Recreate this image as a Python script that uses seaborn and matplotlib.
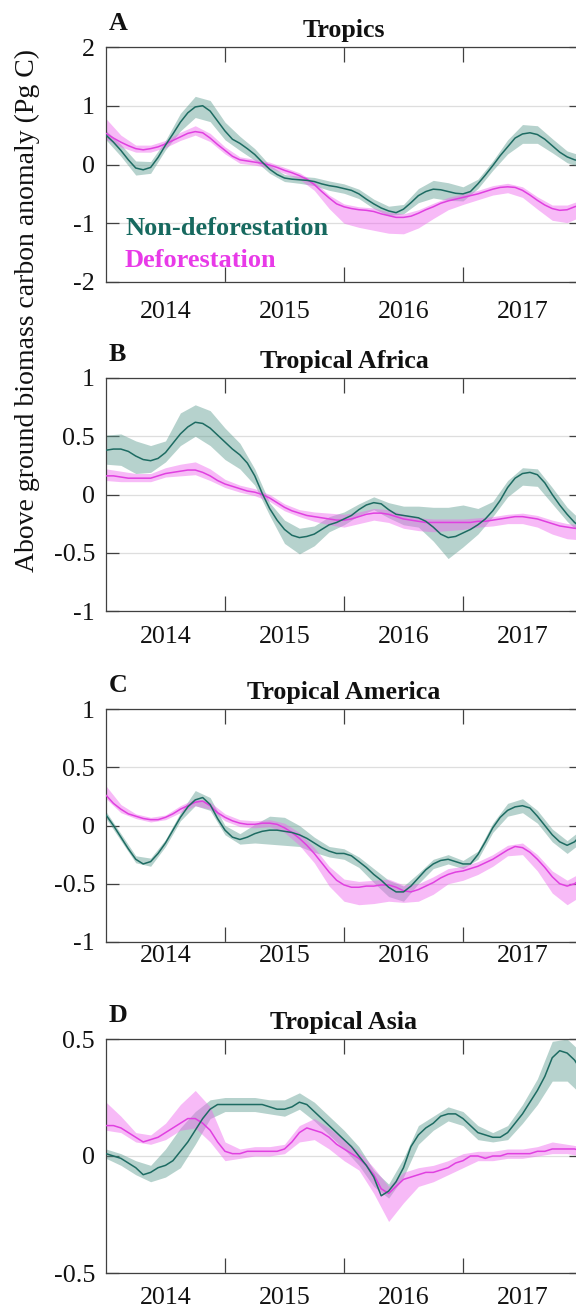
import numpy as np
import matplotlib
matplotlib.use("Agg")
import matplotlib.pyplot as plt
import seaborn as sns
from matplotlib.ticker import FixedLocator, FixedFormatter, NullFormatter

sns.set_theme(style="white")
plt.rcParams["font.family"] = ["Liberation Serif", "DejaVu Serif"]
plt.rcParams["axes.unicode_minus"] = False

# anomaly series sampled every 1/16 year from Jan 2014 to Jan 2018;
# uncertainty envelopes sampled every 1/8 year
years = 2014 + np.arange(65) / 16
years_band = years[::2]

year_labels = ["2014", "2015", "2016", "2017"]

# ---- A: Tropics ----
A_nd = [0.50, 0.38, 0.24, 0.08, -0.06, -0.09, -0.05, 0.12, 0.33, 0.52, 0.72, 0.88, 0.98, 1.00, 0.91, 0.74,
        0.57, 0.43, 0.36, 0.27, 0.17, 0.04, -0.08, -0.17, -0.23, -0.25, -0.26, -0.27, -0.29, -0.33, -0.36, -0.38,
        -0.41, -0.44, -0.50, -0.59, -0.67, -0.74, -0.79, -0.82, -0.76, -0.65, -0.53, -0.46, -0.42, -0.43, -0.46, -0.49,
        -0.50, -0.46, -0.33, -0.18, -0.02, 0.15, 0.30, 0.45, 0.52, 0.54, 0.51, 0.43, 0.32, 0.21, 0.13, 0.08, 0.05]
A_nd_lo = [0.08, 0.10, 0.12, 0.10, 0.08, 0.15, 0.18, 0.18, 0.15, 0.12, 0.10, 0.07, 0.06, 0.06, 0.07, 0.08,
           0.08, 0.08, 0.08, 0.08, 0.08, 0.12, 0.15, 0.15, 0.12, 0.08, 0.08, 0.12, 0.16, 0.15, 0.12, 0.10, 0.10]
A_nd_hi = A_nd_lo
A_df = [0.53, 0.45, 0.38, 0.32, 0.27, 0.25, 0.27, 0.30, 0.35, 0.41, 0.47, 0.53, 0.56, 0.54, 0.45, 0.34,
        0.24, 0.14, 0.08, 0.06, 0.04, 0.02, -0.01, -0.05, -0.10, -0.14, -0.19, -0.25, -0.34, -0.46, -0.57, -0.67,
        -0.72, -0.75, -0.77, -0.78, -0.80, -0.84, -0.87, -0.90, -0.90, -0.88, -0.83, -0.77, -0.72, -0.66, -0.62, -0.59,
        -0.56, -0.53, -0.50, -0.46, -0.42, -0.39, -0.38, -0.39, -0.44, -0.52, -0.61, -0.69, -0.75, -0.78, -0.77, -0.72, -0.68]
A_df_lo = [0.10, 0.08, 0.06, 0.06, 0.06, 0.06, 0.06, 0.06, 0.06, 0.06, 0.05, 0.05, 0.05, 0.06, 0.10, 0.18,
           0.28, 0.30, 0.32, 0.30, 0.28, 0.25, 0.20, 0.15, 0.12, 0.10, 0.10, 0.10, 0.12, 0.15, 0.20, 0.22, 0.20]
A_df_hi = [0.25, 0.12, 0.06, 0.06, 0.06, 0.08, 0.10, 0.08, 0.06, 0.05, 0.05, 0.05, 0.05, 0.05, 0.05, 0.05,
           0.05, 0.05, 0.06, 0.06, 0.06, 0.06, 0.06, 0.06, 0.06, 0.06, 0.06, 0.06, 0.06, 0.06, 0.06, 0.08, 0.08]

# ---- B: Tropical Africa ----
B_nd = [0.38, 0.39, 0.39, 0.37, 0.33, 0.30, 0.29, 0.31, 0.36, 0.44, 0.52, 0.58, 0.62, 0.61, 0.57, 0.51,
        0.45, 0.39, 0.34, 0.27, 0.16, 0.01, -0.12, -0.22, -0.30, -0.35, -0.37, -0.36, -0.34, -0.30, -0.26, -0.24,
        -0.21, -0.18, -0.13, -0.09, -0.07, -0.08, -0.13, -0.17, -0.18, -0.19, -0.20, -0.23, -0.28, -0.34, -0.37, -0.36,
        -0.33, -0.30, -0.26, -0.21, -0.14, -0.05, 0.06, 0.14, 0.18, 0.19, 0.17, 0.10, 0.00, -0.09, -0.17, -0.24, -0.29]
B_nd_lo = [0.12, 0.14, 0.15, 0.10, 0.08, 0.10, 0.12, 0.15, 0.15, 0.12, 0.08, 0.06, 0.12, 0.14, 0.10, 0.06,
           0.05, 0.05, 0.06, 0.07, 0.08, 0.08, 0.12, 0.18, 0.12, 0.08, 0.05, 0.08, 0.10, 0.10, 0.08, 0.06, 0.06]
B_nd_hi = [0.13, 0.13, 0.13, 0.13, 0.10, 0.18, 0.15, 0.15, 0.12, 0.10, 0.06, 0.05, 0.08, 0.08, 0.07, 0.07,
           0.06, 0.05, 0.05, 0.06, 0.08, 0.10, 0.17, 0.26, 0.24, 0.14, 0.08, 0.06, 0.05, 0.05, 0.06, 0.06, 0.06]
B_df = [0.16, 0.16, 0.15, 0.14, 0.14, 0.14, 0.14, 0.16, 0.18, 0.19, 0.20, 0.21, 0.21, 0.19, 0.16, 0.12,
        0.09, 0.07, 0.05, 0.03, 0.02, 0.00, -0.03, -0.07, -0.11, -0.14, -0.16, -0.18, -0.19, -0.20, -0.21, -0.22,
        -0.22, -0.21, -0.19, -0.17, -0.16, -0.16, -0.17, -0.19, -0.21, -0.22, -0.23, -0.24, -0.24, -0.24, -0.24, -0.24,
        -0.24, -0.24, -0.23, -0.23, -0.22, -0.21, -0.20, -0.19, -0.19, -0.20, -0.21, -0.23, -0.25, -0.27, -0.28, -0.29, -0.29]
B_df_lo = [0.04, 0.04, 0.03, 0.03, 0.03, 0.04, 0.04, 0.04, 0.03, 0.03, 0.03, 0.03, 0.03, 0.03, 0.04, 0.05,
           0.06, 0.06, 0.06, 0.07, 0.08, 0.08, 0.08, 0.07, 0.06, 0.05, 0.05, 0.05, 0.06, 0.07, 0.09, 0.10, 0.10]
B_df_hi = [0.06, 0.05, 0.04, 0.04, 0.05, 0.06, 0.07, 0.06, 0.04, 0.03, 0.03, 0.03, 0.03, 0.03, 0.04, 0.05,
           0.05, 0.04, 0.04, 0.04, 0.04, 0.03, 0.03, 0.03, 0.03, 0.03, 0.03, 0.03, 0.03, 0.03, 0.03, 0.03, 0.03]

# ---- C: Tropical America ----
C_nd = [0.09, 0.00, -0.10, -0.20, -0.29, -0.33, -0.31, -0.24, -0.15, -0.04, 0.07, 0.16, 0.22, 0.24, 0.18, 0.06,
        -0.04, -0.10, -0.12, -0.10, -0.07, -0.05, -0.04, -0.04, -0.05, -0.06, -0.08, -0.11, -0.15, -0.19, -0.22, -0.24,
        -0.24, -0.26, -0.31, -0.36, -0.42, -0.47, -0.53, -0.57, -0.57, -0.52, -0.45, -0.38, -0.33, -0.30, -0.29, -0.31,
        -0.33, -0.33, -0.25, -0.14, -0.02, 0.07, 0.13, 0.16, 0.17, 0.15, 0.08, 0.00, -0.08, -0.14, -0.17, -0.14, -0.07]
C_nd_lo = [0.03, 0.03, 0.03, 0.04, 0.03, 0.03, 0.05, 0.05, 0.04, 0.04, 0.08, 0.12, 0.12, 0.10, 0.08, 0.05,
           0.05, 0.05, 0.07, 0.08, 0.08, 0.05, 0.04, 0.04, 0.04, 0.04, 0.04, 0.05, 0.06, 0.06, 0.06, 0.07, 0.07]
C_nd_hi = [0.03, 0.03, 0.03, 0.03, 0.03, 0.04, 0.08, 0.06, 0.04, 0.05, 0.08, 0.12, 0.12, 0.08, 0.05, 0.04,
           0.04, 0.04, 0.05, 0.06, 0.05, 0.04, 0.04, 0.04, 0.03, 0.03, 0.04, 0.06, 0.06, 0.05, 0.05, 0.04, 0.04]
C_df = [0.26, 0.19, 0.14, 0.10, 0.08, 0.06, 0.05, 0.05, 0.07, 0.10, 0.14, 0.17, 0.20, 0.21, 0.17, 0.11,
        0.07, 0.04, 0.02, 0.01, 0.01, 0.02, 0.02, 0.01, -0.02, -0.06, -0.11, -0.17, -0.24, -0.32, -0.40, -0.47,
        -0.51, -0.53, -0.53, -0.52, -0.52, -0.51, -0.51, -0.53, -0.56, -0.57, -0.55, -0.52, -0.49, -0.45, -0.42, -0.40,
        -0.39, -0.37, -0.35, -0.32, -0.29, -0.25, -0.21, -0.18, -0.19, -0.23, -0.29, -0.36, -0.44, -0.50, -0.52, -0.50, -0.45]
C_df_lo = [0.03, 0.03, 0.02, 0.02, 0.02, 0.03, 0.03, 0.03, 0.03, 0.03, 0.03, 0.03, 0.04, 0.06, 0.08, 0.12,
           0.14, 0.15, 0.15, 0.14, 0.10, 0.10, 0.10, 0.08, 0.08, 0.07, 0.06, 0.05, 0.06, 0.10, 0.14, 0.16, 0.15]
C_df_hi = [0.08, 0.04, 0.02, 0.02, 0.02, 0.03, 0.03, 0.03, 0.03, 0.03, 0.03, 0.03, 0.04, 0.05, 0.05, 0.05,
           0.05, 0.05, 0.05, 0.05, 0.05, 0.05, 0.05, 0.05, 0.04, 0.04, 0.04, 0.04, 0.04, 0.04, 0.05, 0.05, 0.05]

# ---- D: Tropical Asia ----
D_nd = [0.01, 0.00, -0.01, -0.03, -0.05, -0.08, -0.07, -0.05, -0.04, -0.02, 0.02, 0.06, 0.11, 0.16, 0.20, 0.22,
        0.22, 0.22, 0.22, 0.22, 0.22, 0.22, 0.21, 0.20, 0.20, 0.21, 0.23, 0.22, 0.19, 0.16, 0.13, 0.10,
        0.07, 0.04, 0.00, -0.04, -0.09, -0.17, -0.15, -0.11, -0.05, 0.04, 0.09, 0.12, 0.14, 0.17, 0.18, 0.18,
        0.16, 0.13, 0.10, 0.09, 0.08, 0.08, 0.10, 0.14, 0.18, 0.23, 0.28, 0.34, 0.42, 0.45, 0.44, 0.41, 0.36]
D_nd_lo = [0.02, 0.03, 0.03, 0.04, 0.05, 0.07, 0.06, 0.04, 0.03, 0.03, 0.03, 0.03, 0.03, 0.03, 0.04, 0.04,
           0.04, 0.04, 0.04, 0.03, 0.04, 0.04, 0.03, 0.03, 0.03, 0.03, 0.02, 0.03, 0.04, 0.06, 0.10, 0.12, 0.10]
D_nd_hi = [0.02, 0.02, 0.03, 0.03, 0.07, 0.10, 0.08, 0.04, 0.03, 0.03, 0.03, 0.03, 0.04, 0.04, 0.04, 0.04,
           0.04, 0.04, 0.03, 0.03, 0.04, 0.04, 0.03, 0.03, 0.03, 0.03, 0.02, 0.03, 0.04, 0.05, 0.07, 0.06, 0.08]
D_df = [0.13, 0.13, 0.12, 0.10, 0.08, 0.06, 0.07, 0.08, 0.10, 0.12, 0.14, 0.16, 0.16, 0.14, 0.11, 0.06,
        0.02, 0.01, 0.01, 0.02, 0.02, 0.02, 0.02, 0.02, 0.03, 0.06, 0.10, 0.12, 0.11, 0.10, 0.08, 0.05,
        0.03, 0.01, -0.01, -0.04, -0.08, -0.14, -0.16, -0.13, -0.10, -0.09, -0.08, -0.07, -0.07, -0.06, -0.05, -0.03,
        -0.02, 0.00, 0.00, -0.01, 0.00, 0.00, 0.01, 0.01, 0.01, 0.01, 0.02, 0.02, 0.03, 0.03, 0.03, 0.03, 0.02]
D_df_lo = [0.02, 0.02, 0.02, 0.02, 0.03, 0.03, 0.04, 0.05, 0.04, 0.02, 0.02, 0.02, 0.02, 0.04, 0.04, 0.05,
           0.05, 0.05, 0.08, 0.12, 0.10, 0.05, 0.04, 0.03, 0.03, 0.02, 0.02, 0.02, 0.02, 0.02, 0.02, 0.02, 0.02]
D_df_hi = [0.10, 0.05, 0.02, 0.02, 0.04, 0.08, 0.12, 0.10, 0.04, 0.02, 0.02, 0.02, 0.02, 0.03, 0.05, 0.04,
           0.04, 0.03, 0.03, 0.03, 0.03, 0.03, 0.03, 0.03, 0.03, 0.02, 0.02, 0.02, 0.02, 0.02, 0.03, 0.02, 0.02]

TEAL_LINE = "#1d6b62"
TEAL_TEXT = "#17695f"
TEAL_BAND = "#5e9c90"
MAG_LINE = "#e040e0"
MAG_TEXT = "#e83ae8"
MAG_BAND = "#ee66ee"
SPINE = "#404040"

FS = 18.7

W, H = 576, 1311
fig = plt.figure(figsize=(W / 100, H / 100), dpi=100)

panels = [
    # letter, title, top px, bottom px, ylim, yticks, yticklabels, x-label pad (pt), series
    ("A", "Tropics", 47, 282, (-2, 2), [-2, -1, 0, 1, 2], ["-2", "-1", "0", "1", "2"], 14.0,
     (A_nd, A_nd_lo, A_nd_hi, A_df, A_df_lo, A_df_hi)),
    ("B", "Tropical Africa", 378, 611, (-1, 1), [-1, -0.5, 0, 0.5, 1], ["-1", "-0.5", "0", "0.5", "1"], 11.0,
     (B_nd, B_nd_lo, B_nd_hi, B_df, B_df_lo, B_df_hi)),
    ("C", "Tropical America", 709, 942, (-1, 1), [-1, -0.5, 0, 0.5, 1], ["-1", "-0.5", "0", "0.5", "1"], 2.0,
     (C_nd, C_nd_lo, C_nd_hi, C_df, C_df_lo, C_df_hi)),
    ("D", "Tropical Asia", 1039, 1273, (-0.5, 0.5), [-0.5, 0, 0.5], ["-0.5", "0", "0.5"], 10.0,
     (D_nd, D_nd_lo, D_nd_hi, D_df, D_df_lo, D_df_hi)),
]

left_px, right_px = 106, 582

for letter, title, top, bottom, ylim, yt, ytl, xpad, series in panels:
    ax = fig.add_axes([left_px / W, 1 - bottom / H, (right_px - left_px) / W, (bottom - top) / H])
    nd, nd_lo, nd_hi, df, df_lo, df_hi = [np.asarray(s) for s in series]

    # uncertainty envelopes around each series
    ax.fill_between(years_band, nd[::2] - nd_lo, nd[::2] + nd_hi, color=TEAL_BAND, alpha=0.45, lw=0, zorder=2)
    ax.fill_between(years_band, df[::2] - df_lo, df[::2] + df_hi, color=MAG_BAND, alpha=0.45, lw=0, zorder=2)
    sns.lineplot(x=years, y=df, ax=ax, color=MAG_LINE, lw=1.1, zorder=3)
    sns.lineplot(x=years, y=nd, ax=ax, color=TEAL_LINE, lw=1.1, zorder=4)

    ax.set_xlim(2014, 2018)
    ax.set_ylim(*ylim)
    ax.set_xlabel("")
    ax.set_ylabel("")

    ax.set_yticks(yt)
    ax.set_yticklabels(ytl)
    ax.yaxis.grid(True, color="#dedede", lw=0.9, zorder=0)
    ax.xaxis.grid(False)
    ax.set_axisbelow(True)

    # year boundaries carry the tick marks, year names sit mid-year
    ax.xaxis.set_major_locator(FixedLocator([2015, 2016, 2017]))
    ax.xaxis.set_major_formatter(NullFormatter())
    ax.xaxis.set_minor_locator(FixedLocator([2014.5, 2015.5, 2016.5, 2017.5]))
    ax.xaxis.set_minor_formatter(FixedFormatter(year_labels))

    ax.tick_params(axis="x", which="major", direction="in", length=11, width=0.9,
                   color=SPINE, top=True, bottom=True)
    ax.tick_params(axis="x", which="minor", length=0, pad=xpad, labelsize=FS, labelcolor="#111111")
    ax.tick_params(axis="y", which="major", direction="in", length=9.5, width=0.9, color=SPINE,
                   left=True, right=True, labelsize=FS, pad=8, labelcolor="#111111")

    for s in ax.spines.values():
        s.set_visible(True)
        s.set_color(SPINE)
        s.set_linewidth(0.9)

    ax.set_title(title, fontsize=FS, fontweight="bold", pad=7.5, color="#111111")
    ax.annotate(letter, xy=(0, 1), xycoords="axes fraction", xytext=(2.0, 12.3),
                textcoords="offset points", fontsize=FS, fontweight="bold", color="#111111",
                ha="left", va="baseline")

    if letter == "A":
        ax.text(2014.16, -1.20, "Non-deforestation", color=TEAL_TEXT, fontsize=19,
                fontweight="bold", ha="left", va="baseline", zorder=5)
        ax.text(2014.16, -1.745, "Deforestation", color=MAG_TEXT, fontsize=19,
                fontweight="bold", ha="left", va="baseline", zorder=5)

fig.text(27 / W, 1 - 310 / H, "Above ground biomass carbon anomaly (Pg C)", rotation=90,
         ha="center", va="center", fontsize=20, color="#111111")

fig.savefig("out.png", dpi=100)
